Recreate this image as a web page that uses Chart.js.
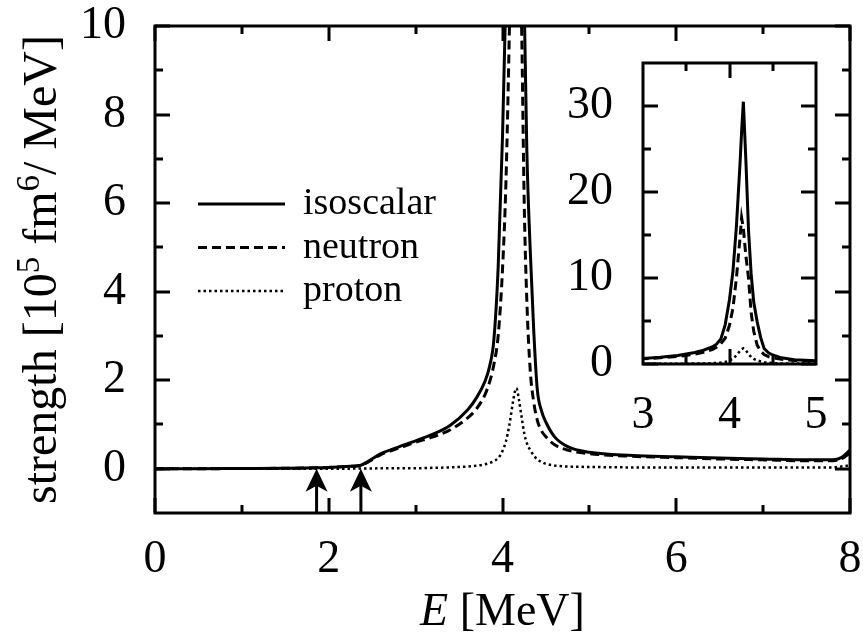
<!DOCTYPE html>
<html>
<head>
<meta charset="utf-8">
<script src="https://cdn.jsdelivr.net/npm/chart.js"></script>
<style>
  body { margin: 0; background: #fff; }
  #wrap { position: relative; width: 863px; height: 634px; }
  #wrap canvas { position: absolute; left: 0; top: 0; }
</style>
</head>
<body>
<div id="wrap">
  <canvas id="mainChart" width="863" height="634"></canvas>
  <canvas id="insetChart" width="863" height="634"></canvas>
</div>
<script>
    // energy grid [MeV] and strengths [10^5 fm^6/MeV]
    const energy = [0, 0.5, 1.0, 1.5, 1.86, 2.0, 2.2, 2.37, 2.45, 2.6,
        2.8, 3.0, 3.2, 3.4, 3.6, 3.7, 3.8, 3.85, 3.9, 3.95,
        4.0, 4.04, 4.08, 4.12, 4.14, 4.16, 4.19, 4.22, 4.25, 4.28,
        4.32, 4.36, 4.4, 4.45, 4.5, 4.6, 4.75, 5.0, 5.5, 6.0,
        6.5, 7.0, 7.5, 7.8, 7.9, 8.0];
    const isoscalar = [0, 0, 0.005, 0.01, 0.02, 0.03, 0.05, 0.08, 0.16, 0.34,
        0.49, 0.63, 0.78, 0.98, 1.33, 1.6, 1.98, 2.3, 2.9, 4.55,
        7.5, 10.8, 16, 23, 27, 30.5, 23.5, 15.5, 10.5, 7.2,
        4.9, 3.1, 1.8, 1.3, 1.05, 0.72, 0.5, 0.37, 0.3, 0.27,
        0.24, 0.22, 0.2, 0.2, 0.25, 0.42];
    const neutron = [0, 0, 0.005, 0.01, 0.02, 0.03, 0.05, 0.08, 0.15, 0.32,
        0.46, 0.6, 0.72, 0.88, 1.15, 1.35, 1.68, 1.95, 2.35, 3.0,
        4.5, 6.5, 10, 14.5, 17, 15.8, 12.5, 10, 6.0, 3.8,
        2.2, 1.5, 1.1, 0.85, 0.72, 0.54, 0.42, 0.34, 0.28, 0.25,
        0.22, 0.2, 0.18, 0.18, 0.22, 0.36];
    const proton = [0, 0, 0, 0, 0, 0, 0, 0.005, 0.005, 0.01,
        0.01, 0.01, 0.02, 0.03, 0.05, 0.07, 0.1, 0.13, 0.17, 0.24,
        0.4, 0.62, 1.0, 1.5, 1.72, 1.82, 1.55, 1.17, 0.8, 0.58,
        0.42, 0.3, 0.21, 0.15, 0.11, 0.07, 0.05, 0.04, 0.03, 0.03,
        0.03, 0.03, 0.03, 0.03, 0.05, 0.08];
    const seriesLabels = ['isoscalar', 'neutron', 'proton'];

    // thresholds marked by arrows [MeV]
    const thresholds = [1.86, 2.37];

    // tick values
    const mainXTicks = [0, 2, 4, 6, 8];
    const mainXMinor = [1, 3, 5, 7];
    const mainYTicks = [0, 2, 4, 6, 8, 10];
    const mainYMinor = [1, 3, 5, 7, 9];
    const insetXTicks = [3, 4, 5];
    const insetXMinor = [3.5, 4.5];
    const insetYTicks = [0, 10, 20, 30];
    const insetYMinor = [5, 15, 25];

    Chart.defaults.font.family = '"Liberation Serif", "Times New Roman", serif';
    Chart.defaults.color = '#000';

    const pts = arr => energy.map((e, i) => ({x: e, y: arr[i]}));
    const styles = [
        {borderWidth: 3, borderDash: []},
        {borderWidth: 3, borderDash: [9, 5]},
        {borderWidth: 2.5, borderDash: [2.5, 3]}
    ];
    function makeDatasets(smooth) {
        return [isoscalar, neutron, proton].map((arr, i) => ({
            label: seriesLabels[i],
            data: pts(arr),
            borderColor: '#000',
            borderWidth: styles[i].borderWidth,
            borderDash: styles[i].borderDash,
            pointRadius: 0,
            fill: false,
            cubicInterpolationMode: smooth ? 'monotone' : 'default',
            tension: 0
        }));
    }

    // frame with inward ticks on all four sides
    const framePlugin = {
        id: 'frame',
        beforeDatasetsDraw(chart, args, o) {
            if (!o.fillArea) return;
            const a = chart.chartArea, ctx = chart.ctx;
            ctx.save();
            ctx.fillStyle = '#fff';
            ctx.fillRect(a.left, a.top, a.width, a.height);
            ctx.restore();
        },
        afterDatasetsDraw(chart, args, o) {
            const {ctx, chartArea: a, scales: {x, y}} = chart;
            ctx.save();
            ctx.strokeStyle = '#000';
            ctx.lineWidth = 3;
            ctx.beginPath();
            const xt = (vals, len) => vals.forEach(v => {
                const p = Math.round(x.getPixelForValue(v));
                ctx.moveTo(p, a.bottom); ctx.lineTo(p, a.bottom - len);
                ctx.moveTo(p, a.top); ctx.lineTo(p, a.top + len);
            });
            const yt = (vals, len) => vals.forEach(v => {
                const p = Math.round(y.getPixelForValue(v));
                ctx.moveTo(a.left, p); ctx.lineTo(a.left + len, p);
                ctx.moveTo(a.right, p); ctx.lineTo(a.right - len, p);
            });
            xt(o.xMajor, 15); xt(o.xMinor, 8);
            yt(o.yMajor, 15); yt(o.yMinor, 8);
            ctx.stroke();
            ctx.strokeRect(a.left, a.top, a.width, a.height);
            ctx.restore();
        }
    };

    // legend, threshold arrows and axis titles of the main panel
    const decorPlugin = {
        id: 'decor',
        afterDraw(chart) {
            const {ctx, chartArea: a, scales: {x, y}} = chart;
            ctx.save();
            // legend
            ctx.font = '38px "Liberation Serif"';
            ctx.fillStyle = '#000';
            chart.data.datasets.forEach((ds, i) => {
                const ly = 204 + i * 43.5;
                ctx.beginPath();
                ctx.lineWidth = ds.borderWidth;
                ctx.setLineDash(ds.borderDash);
                ctx.moveTo(198, ly); ctx.lineTo(285, ly);
                ctx.stroke();
                ctx.setLineDash([]);
                ctx.textBaseline = 'alphabetic';
                ctx.fillText(ds.label, 303, ly + 10);
            });
            // arrows
            const tip = y.getPixelForValue(0);
            thresholds.forEach(t => {
                const px = x.getPixelForValue(t);
                ctx.beginPath();
                ctx.lineWidth = 3;
                ctx.moveTo(px, a.bottom); ctx.lineTo(px, tip + 12);
                ctx.stroke();
                ctx.beginPath();
                ctx.moveTo(px, tip);
                ctx.lineTo(px + 11, tip + 23);
                ctx.lineTo(px, tip + 17);
                ctx.lineTo(px - 11, tip + 23);
                ctx.closePath();
                ctx.fill();
            });
            // x title with italic E
            const cx = (a.left + a.right) / 2;
            ctx.textBaseline = 'alphabetic';
            ctx.font = 'italic 46px "Liberation Serif"';
            const w1 = ctx.measureText('E').width;
            ctx.font = '46px "Liberation Serif"';
            const w2 = ctx.measureText(' [MeV]').width;
            let sx = cx - (w1 + w2) / 2;
            ctx.font = 'italic 46px "Liberation Serif"';
            ctx.fillText('E', sx, 625);
            ctx.font = '46px "Liberation Serif"';
            ctx.fillText(' [MeV]', sx + w1, 625);
            // y title with superscripts
            const parts = [['strength [10', 0], ['5', 1], [' fm', 0], ['6', 1], ['/ MeV]', 0]];
            const fontOf = s => s ? '33px "Liberation Serif"' : '48px "Liberation Serif"';
            let total = 0;
            parts.forEach(p => { ctx.font = fontOf(p[1]); total += ctx.measureText(p[0]).width; });
            ctx.translate(56, (a.top + a.bottom) / 2);
            ctx.rotate(-Math.PI / 2);
            let px = -total / 2;
            parts.forEach(p => {
                ctx.font = fontOf(p[1]);
                ctx.fillText(p[0], px, p[1] ? -17 : 0);
                px += ctx.measureText(p[0]).width;
            });
            ctx.restore();
        }
    };

    function tickSetter(vals) {
        return scale => { scale.ticks = vals.map(v => ({value: v})); };
    }
    // fixed axis box size, no extra room reserved for label overflow
    function fixSize(prop, size) {
        return s => {
            s[prop] = size;
            s.paddingTop = s.paddingBottom = s.paddingLeft = s.paddingRight = 0;
        };
    }

    new Chart(document.getElementById('mainChart').getContext('2d'), {
        type: 'line',
        data: {datasets: makeDatasets(true)},
        options: {
            responsive: false,
            animation: false,
            layout: {padding: {left: 0, top: 26, right: 13, bottom: 0}},
            plugins: {
                legend: {display: false},
                tooltip: {enabled: false},
                frame: {xMajor: mainXTicks, xMinor: mainXMinor, yMajor: mainYTicks, yMinor: mainYMinor}
            },
            scales: {
                x: {
                    type: 'linear', min: 0, max: 8,
                    afterBuildTicks: tickSetter(mainXTicks),
                    afterFit: fixSize('height', 121),
                    grid: {display: false, drawTicks: false},
                    border: {display: false},
                    ticks: {autoSkip: false, maxRotation: 0, padding: 24,
                        font: {size: 46, lineHeight: 1}}
                },
                y: {
                    type: 'linear', min: -1, max: 10,
                    afterBuildTicks: tickSetter(mainYTicks),
                    afterFit: fixSize('width', 155),
                    grid: {display: false, drawTicks: false},
                    border: {display: false},
                    ticks: {autoSkip: false, padding: 29, font: {size: 46, lineHeight: 1}}
                }
            }
        },
        plugins: [framePlugin, decorPlugin]
    });

    new Chart(document.getElementById('insetChart').getContext('2d'), {
        type: 'line',
        data: {datasets: makeDatasets(false)},
        options: {
            responsive: false,
            animation: false,
            layout: {padding: {left: 0, top: 63, right: 47, bottom: 0}},
            plugins: {
                legend: {display: false},
                tooltip: {enabled: false},
                frame: {fillArea: true, xMajor: [4], xMinor: insetXMinor, yMajor: insetYTicks, yMinor: insetYMinor}
            },
            scales: {
                x: {
                    type: 'linear', min: 3, max: 5,
                    afterBuildTicks: tickSetter(insetXTicks),
                    afterFit: fixSize('height', 270),
                    grid: {display: false, drawTicks: false},
                    border: {display: false},
                    ticks: {autoSkip: false, maxRotation: 0, padding: 29,
                        font: {size: 46, lineHeight: 1}}
                },
                y: {
                    type: 'linear', min: 0, max: 35,
                    afterBuildTicks: tickSetter(insetYTicks),
                    afterFit: fixSize('width', 643),
                    grid: {display: false, drawTicks: false},
                    border: {display: false},
                    ticks: {autoSkip: false, padding: 30, font: {size: 46, lineHeight: 1}}
                }
            }
        },
        plugins: [framePlugin]
    });
</script>
</body>
</html>
